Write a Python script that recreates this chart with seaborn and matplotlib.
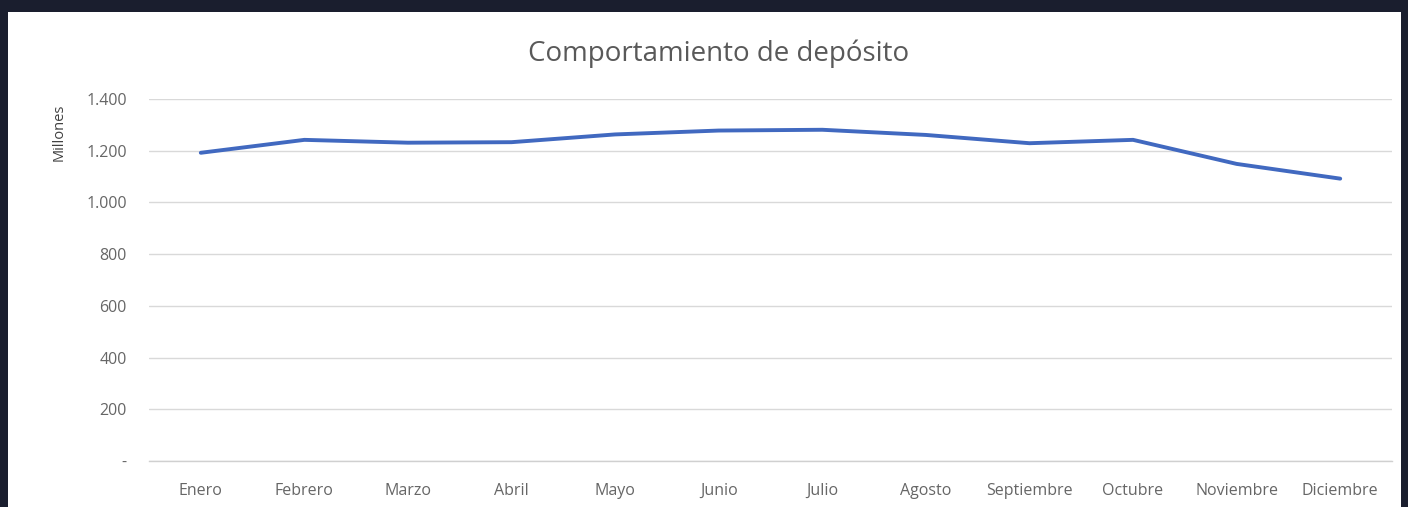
import numpy as np
import matplotlib.pyplot as plt
import seaborn as sns
import pandas as pd
from matplotlib.patches import Rectangle

meses = ['Enero', 'Febrero', 'Marzo', 'Abril', 'Mayo', 'Junio', 'Julio',
         'Agosto', 'Septiembre', 'Octubre', 'Noviembre', 'Diciembre']
deposito = [1192, 1242, 1231, 1233, 1263, 1278, 1281, 1261, 1229, 1242, 1149, 1092]
yticks = [0, 200, 400, 600, 800, 1000, 1200, 1400]
ylabels = ['-', '200', '400', '600', '800', '1.000', '1.200', '1.400']

df = pd.DataFrame({'mes': meses, 'deposito': deposito})

sns.set_style('white')
plt.rcParams['font.family'] = ['Open Sans', 'DejaVu Sans']

fig = plt.figure(figsize=(14.08, 5.07), dpi=100)
fig.patch.set_facecolor('#1a1e2e')
# white chart area
fig.patches.append(Rectangle((8 / 1408, 0), 1393 / 1408, 495 / 507,
                             transform=fig.transFigure, facecolor='white',
                             edgecolor='none', zorder=0))

ax = fig.add_axes([149 / 1408, 46 / 507, 1243 / 1408, 362 / 507])
ax.set_facecolor('none')
ax.set_zorder(2)

sns.lineplot(data=df, x='mes', y='deposito', ax=ax, color='#4169c0',
             linewidth=2.8, sort=False, zorder=3)

ax.set_ylim(0, 1400)
ax.set_xlim(-0.5, 11.5)
ax.set_yticks(yticks)
ax.set_yticklabels(ylabels)
ax.yaxis.grid(True, color='#d9d9d9', linewidth=1)
ax.set_axisbelow(True)
for s in ['top', 'right', 'left']:
    ax.spines[s].set_visible(False)
ax.spines['bottom'].set_color('#d0d0d0')
ax.spines['bottom'].set_linewidth(1)
ax.tick_params(axis='y', length=0, pad=16, labelsize=11.5, labelcolor='#666666')
ax.tick_params(axis='x', length=0, pad=16, labelsize=11.5, labelcolor='#666666')
ax.set_xlabel('')
ax.set_ylabel('')

fig.text(719 / 1408, (507 - 54) / 507, 'Comportamiento de depósito',
         ha='center', va='center', fontsize=20, color='#595959')
fig.text(59 / 1408, (507 - 132) / 507, 'Millones', rotation=90,
         ha='center', va='center', fontsize=10.5, color='#404040')

fig.savefig('out.png', dpi=100, facecolor=fig.get_facecolor())
